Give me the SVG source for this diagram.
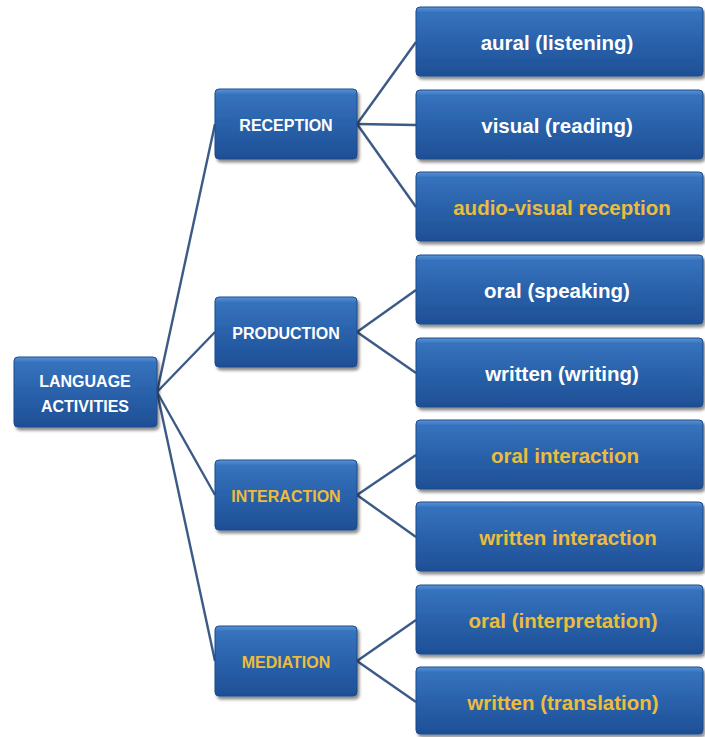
<svg xmlns="http://www.w3.org/2000/svg" width="705" height="737" viewBox="0 0 705 737">
<defs>
<linearGradient id="g" x1="0" y1="0" x2="0" y2="1">
<stop offset="0" stop-color="#5b93d6"/>
<stop offset="0.08" stop-color="#3672bd"/>
<stop offset="0.5" stop-color="#2a62ab"/>
<stop offset="1" stop-color="#1e4f95"/>
</linearGradient>
<filter id="sh" x="-10%" y="-10%" width="125%" height="130%">
<feGaussianBlur in="SourceAlpha" stdDeviation="1.5"/>
<feOffset dx="1.5" dy="2.5" result="b"/>
<feComponentTransfer><feFuncA type="linear" slope="0.45"/></feComponentTransfer>
<feMerge><feMergeNode/><feMergeNode in="SourceGraphic"/></feMerge>
</filter>
</defs>
<style>
.box{fill:url(#g);stroke:#1c4b8c;stroke-width:1;filter:url(#sh)}
.t{font-family:"Liberation Sans",Arial,sans-serif;font-weight:bold;text-anchor:middle;dominant-baseline:central}
.w{fill:#ffffff}
.y{fill:#ecbd3c}
.l{font-size:20.5px}
.m{font-size:16px}
.c{stroke:#3c5a86;stroke-width:2.4;fill:none}
</style>
<rect width="705" height="737" fill="#ffffff"/>
<g id="connectors">
<line class="c" x1="157" y1="392" x2="215" y2="124"/>
<line class="c" x1="157" y1="392" x2="215" y2="332"/>
<line class="c" x1="157" y1="392" x2="215" y2="495"/>
<line class="c" x1="157" y1="392" x2="215" y2="661"/>
<line class="c" x1="357" y1="124" x2="416" y2="42"/>
<line class="c" x1="357" y1="124" x2="416" y2="125"/>
<line class="c" x1="357" y1="124" x2="416" y2="207"/>
<line class="c" x1="357" y1="332" x2="416" y2="290"/>
<line class="c" x1="357" y1="332" x2="416" y2="373"/>
<line class="c" x1="357" y1="495" x2="416" y2="455"/>
<line class="c" x1="357" y1="495" x2="416" y2="537"/>
<line class="c" x1="357" y1="661" x2="416" y2="620"/>
<line class="c" x1="357" y1="661" x2="416" y2="702"/>
</g>
<g id="root">
<rect class="box" x="14" y="357" width="143" height="70" rx="4"/>
<text class="t w m" x="85" y="381">LANGUAGE</text>
<text class="t w m" x="85" y="406">ACTIVITIES</text>
</g>
<g id="reception">
<rect class="box" x="215" y="89" width="142" height="70" rx="4"/>
<text class="t w m" x="286" y="125">RECEPTION</text>
</g>
<g id="production">
<rect class="box" x="215" y="297" width="142" height="70" rx="4"/>
<text class="t w m" x="286" y="333">PRODUCTION</text>
</g>
<g id="interaction">
<rect class="box" x="215" y="460" width="142" height="70" rx="4"/>
<text class="t y m" x="286" y="496">INTERACTION</text>
</g>
<g id="mediation">
<rect class="box" x="215" y="626" width="142" height="70" rx="4"/>
<text class="t y m" x="286" y="662">MEDIATION</text>
</g>
<g id="aural">
<rect class="box" x="416" y="7" width="287" height="69" rx="4"/>
<text class="t w l" x="557" y="42">aural (listening)</text>
</g>
<g id="visual">
<rect class="box" x="416" y="90" width="287" height="69" rx="4"/>
<text class="t w l" x="557" y="125">visual (reading)</text>
</g>
<g id="audiovisual">
<rect class="box" x="416" y="172" width="287" height="69" rx="4"/>
<text class="t y l" x="562" y="207">audio-visual  reception</text>
</g>
<g id="oral-speaking">
<rect class="box" x="416" y="255" width="287" height="69" rx="4"/>
<text class="t w l" x="557" y="290">oral (speaking)</text>
</g>
<g id="written-writing">
<rect class="box" x="416" y="338" width="287" height="69" rx="4"/>
<text class="t w l" x="562" y="373">written (writing)</text>
</g>
<g id="oral-interaction">
<rect class="box" x="416" y="420" width="287" height="69" rx="4"/>
<text class="t y l" x="565" y="455">oral interaction</text>
</g>
<g id="written-interaction">
<rect class="box" x="416" y="502" width="287" height="69" rx="4"/>
<text class="t y l" x="568" y="537">written interaction</text>
</g>
<g id="oral-interpretation">
<rect class="box" x="416" y="585" width="287" height="69" rx="4"/>
<text class="t y l" x="563" y="620">oral (interpretation)</text>
</g>
<g id="written-translation">
<rect class="box" x="416" y="667" width="287" height="67" rx="4"/>
<text class="t y l" x="563" y="702">written (translation)</text>
</g>
</svg>
